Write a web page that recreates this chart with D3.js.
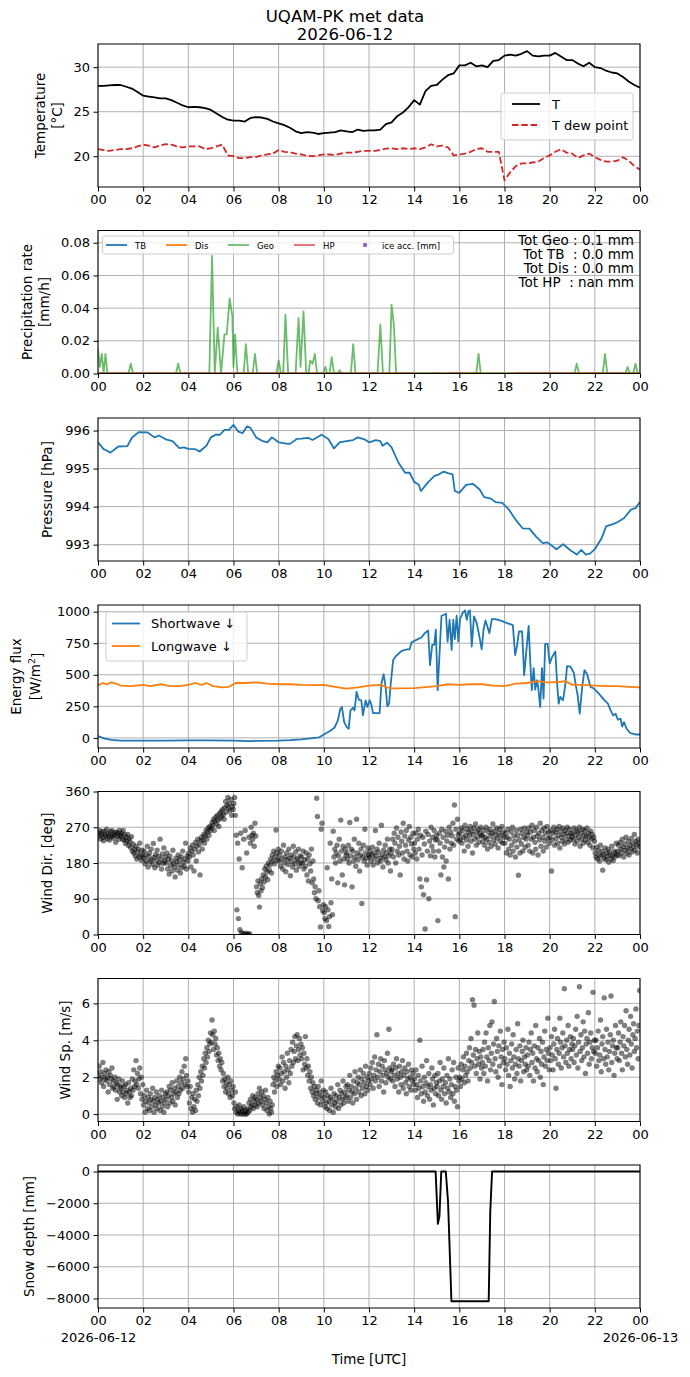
<!DOCTYPE html>
<html>
<head>
<meta charset="utf-8">
<script src="https://cdn.jsdelivr.net/npm/d3@7"></script>
<style>
  html, body { margin: 0; padding: 0; background: #fff; }
  svg text { font-family: "DejaVu Sans", sans-serif; }
</style>
</head>
<body>
<div id="chart"></div>
<script>
// UQAM-PK met data, 2026-06-12 -- seven stacked panels sharing one time axis (hours UTC)

// ---- temperature, 15 min steps from 00 to 24 ----
var tempAir = [27.9,27.9,27.95,28.0,28.0,27.8,27.6,27.2,26.8,26.7,26.6,26.5,26.5,26.3,26.0,25.7,25.5,25.55,25.5,25.4,25.2,
  24.8,24.4,24.1,24.0,24.0,23.9,24.3,24.4,24.35,24.2,23.9,23.7,23.5,23.2,22.8,22.6,22.7,22.65,22.5,22.6,
  22.65,22.7,22.9,22.8,22.7,23.0,22.85,22.9,22.9,23.0,23.6,23.8,24.5,24.9,25.5,26.3,25.8,27.3,27.9,28.0,
  28.6,29.1,29.3,30.2,30.2,30.5,30.1,30.2,30.0,30.7,30.8,31.3,31.4,31.3,31.5,31.8,31.3,31.2,31.3,31.3,
  31.6,31.2,30.8,30.8,30.4,30.1,30.5,30.0,29.9,29.6,29.4,29.3,28.9,28.4,28.0,27.7];
var tempDew = [20.8,20.7,20.6,20.7,20.8,20.8,20.9,21.1,21.3,21.2,21.0,21.2,21.35,21.3,21.1,21.0,21.1,21.1,21.1,20.8,20.9,
  21.1,21.3,20.1,20.0,19.8,19.8,19.9,19.9,20.1,20.2,20.3,20.7,20.5,20.45,20.3,20.2,20.05,20.0,20.1,20.2,
  20.2,20.15,20.3,20.4,20.4,20.5,20.6,20.6,20.6,20.7,20.85,20.9,20.8,20.9,20.8,20.9,20.8,21.0,21.35,21.1,
  21.2,21.0,20.1,20.2,20.3,20.5,20.8,20.9,20.5,20.5,20.5,17.3,18.2,18.9,19.2,19.2,19.3,19.4,19.8,20.1,
  20.5,20.8,20.4,20.3,19.8,20.1,20.3,19.9,19.6,19.4,19.4,19.5,19.9,19.5,18.9,18.5];

// ---- precipitation rate [mm/h] ----
var geoTimes = [0,0.08,0.17,0.25,0.33,0.42,1.35,1.45,1.55,3.45,3.55,3.65,4.93,5.05,5.17,5.3,5.45,5.6,5.7,5.83,5.95,6.0,6.07,6.17,
  6.45,6.55,6.65,6.85,6.95,7.05,7.9,8.0,8.1,8.2,8.3,8.42,8.75,8.88,8.97,9.1,9.22,9.32,9.4,9.5,9.6,9.7,9.97,10.07,10.15,
  10.25,10.35,10.45,10.62,10.7,10.78,11.2,11.3,11.4,12.38,12.5,12.62,12.9,13.0,13.1,13.2,16.75,16.85,16.95,
  21.1,21.2,21.3,22.35,22.45,22.55,23.35,23.45,23.55,23.7,23.8,23.9,24];
var geoRate = [0.015,0.004,0.012,0,0.012,0,0,0.006,0,0,0.006,0,0,0.072,0,0.028,0,0.024,0.024,0.046,0.035,0.004,0.024,0,
  0,0.018,0,0,0.012,0,0,0.008,0,0,0.036,0,0,0.034,0.004,0.038,0,0,0.008,0.006,0.012,0,0,0.004,0,
  0,0.01,0,0,0.002,0,0,0.018,0,0,0.03,0,0,0.042,0.03,0,0,0.012,0,
  0,0.006,0,0,0.012,0,0,0.004,0,0,0.006,0,0];
var tbTimes = [0, 24], tbRate = [0, 0];
var disTimes = [0, 24], disRate = [0, 0];
var hpTimes = [0,13.96,14.4,14.83,15.2,15.35,15.5,16.3,16.45,16.6,16.96,17.7,18.46,24];
var hpRate = [0,0,null,0,0,null,0,0,null,0,0,null,0,0];
var precipTotals = ['Tot Geo : 0.1 mm', 'Tot TB  : 0.0 mm', 'Tot Dis : 0.0 mm', 'Tot HP  : nan mm'];

// ---- pressure [hPa] ----
var pressTimes = [0,0.25,0.4,0.55,0.9,1.3,1.5,1.8,2.2,2.5,2.7,3.0,3.3,3.6,3.8,4.0,4.3,4.5,4.8,5.0,5.2,5.4,5.6,5.8,6.0,6.2,6.4,6.6,6.75,7.0,
  7.3,7.5,7.7,8.0,8.3,8.5,8.8,9.0,9.3,9.5,9.9,10.2,10.45,10.7,11.0,11.3,11.5,11.8,12.0,12.3,12.5,12.6,12.8,13.0,13.3,13.6,13.8,14.0,14.2,14.3,
  14.6,14.9,15.1,15.3,15.5,15.7,15.8,16.0,16.3,16.6,16.9,17.1,17.4,17.6,17.9,18.2,18.5,18.8,19.1,19.4,19.7,19.9,20.1,20.3,20.6,20.9,21.2,21.4,21.6,21.8,
  22.0,22.3,22.5,22.8,23.0,23.3,23.6,23.8,24.0];
var pressVals = [995.69,995.51,995.47,995.42,995.58,995.59,995.81,995.96,995.95,995.82,995.87,995.77,995.72,995.54,995.56,995.52,995.51,995.45,995.60,995.82,
  995.89,995.89,996.02,996.02,996.15,995.98,995.93,996.11,996.07,995.82,995.72,995.69,995.82,995.69,995.66,995.65,995.78,995.79,995.81,995.75,
  995.89,995.78,995.53,995.69,995.72,995.75,995.82,995.77,995.69,995.75,995.72,995.60,995.68,995.56,995.16,994.89,994.89,994.65,994.58,994.41,
  994.63,994.81,994.85,994.92,994.88,994.85,994.41,994.36,994.57,994.60,994.45,994.25,994.21,994.12,994.10,993.92,993.65,993.43,993.42,993.21,
  993.04,993.06,992.97,992.88,993.01,992.86,992.74,992.86,992.74,992.77,992.88,993.17,993.48,993.54,993.59,993.70,993.92,993.96,994.12];

// ---- radiation [W/m2] ----
var swTimes = [0,0.3,0.6,1.0,2.0,3.0,4.0,5.0,6.0,6.7,7.0,8.0,8.5,9.0,9.5,9.8,
  10.0,10.25,10.47,10.62,10.73,10.8,10.9,11.0,11.1,11.18,11.3,11.36,11.45,11.55,11.66,11.73,11.85,11.93,12.03,12.1,
  12.18,12.47,12.55,12.65,12.74,12.81,12.89,12.96,13.07,13.2,13.36,13.48,13.69,13.8,13.88,14.1,14.33,14.47,14.62,14.7,
  14.8,14.89,14.96,15.04,15.14,15.21,15.32,15.41,15.48,15.57,15.66,15.73,15.8,15.88,15.96,16.03,16.15,16.25,16.33,16.4,
  16.47,16.55,16.65,16.77,16.89,16.99,17.07,17.16,17.24,17.33,17.44,17.58,17.81,18.03,18.22,18.37,18.47,18.55,18.64,18.78,
  18.87,18.96,19.07,19.14,19.21,19.29,19.36,19.44,19.5,19.58,19.66,19.73,19.8,19.91,20.0,20.1,20.25,20.33,20.4,20.47,
  20.59,20.7,20.77,20.92,21.07,21.17,21.24,21.33,21.44,21.54,21.66,21.81,21.96,22.18,22.4,22.58,22.7,22.81,22.92,23.02,
  23.14,23.21,23.29,23.41,23.58,23.8,24.0];
var swVals = [15,-5,-15,-22,-22,-22,-20,-20,-22,-26,-24,-22,-18,-12,-2,5,
  27,53,80,138,231,245,125,90,72,218,239,218,364,303,298,178,298,245,298,266,
  197,197,431,505,399,250,271,425,617,649,676,692,702,702,755,777,798,830,851,577,
  737,737,857,378,724,968,976,984,763,936,697,936,782,968,763,941,990,1010,936,1003,
  1010,724,963,910,803,702,857,931,883,830,941,941,931,915,904,894,657,724,843,843,
  497,676,888,604,378,553,383,457,391,245,553,311,745,745,590,638,684,431,271,325,
  298,431,569,564,516,404,338,192,404,537,505,404,391,351,303,271,218,178,192,144,
  152,90,125,72,37,27,27];
var lwTimes = [0,0.2,0.4,0.6,0.8,1.0,1.5,2.0,2.3,2.8,3.2,3.6,4.0,4.3,4.6,4.8,5.1,5.5,5.8,6.1,6.5,7.0,7.5,8.0,8.5,9.0,9.5,10,10.5,11,
  11.5,12,12.5,12.8,13,14,15,15.5,16,16.5,17,17.5,18,18.5,19,19.5,19.8,20,20.5,20.7,21,21.5,22,22.5,23,23.5,24];
var lwVals = [415,435,425,440,430,415,410,420,410,425,410,410,420,435,420,435,410,400,405,435,435,440,430,425,425,420,418,420,405,390,
  400,415,420,400,392,395,410,425,420,425,425,415,410,430,435,450,440,440,445,450,420,420,415,410,410,405,400];

// ---- wind direction [deg], one row per hour, 2 min apart ----
var windDirRows = [
  [255,248,262,240,251,258,245,236,260,252,247,265,241,254,250,238,259,246,262,249,243,256,251,232,258,247,255,240,262,250],
  [248,255,240,262,238,251,229,245,236,252,224,241,233,219,246,210,228,205,215,198,222,190,208,215,195,230,201,187,212,198],
  [192,210,178,200,185,222,170,196,205,183,215,188,176,229,194,168,201,186,212,175,197,181,240,190,165,203,179,218,185,195],
  [180,205,165,190,152,198,174,186,160,212,178,170,145,192,183,162,200,175,188,155,196,168,210,182,172,190,230,165,198,185],
  [205,195,218,170,210,225,200,160,215,232,185,222,240,208,226,150,236,245,215,238,252,230,248,262,240,258,268,250,272,262],
  [268,282,275,290,262,285,295,278,300,288,272,305,292,310,298,315,302,290,320,335,308,325,345,318,330,312,340,300,322,315],
  [330,345,300,250,62,230,40,190,12,255,5,168,2,240,0,262,3,205,0,1,245,2,230,270,250,240,255,222,280,248],
  [120,105,135,98,69,128,110,140,118,150,132,165,145,172,158,138,180,162,175,190,155,200,185,210,178,195,263,205,188,215],
  [185,200,172,210,190,165,225,180,195,158,205,188,176,215,192,148,200,183,170,222,195,178,208,162,190,185,215,172,198,180],
  [195,180,210,165,188,172,205,150,190,135,200,178,160,215,130,185,140,105,120,90,343,297,85,110,70,19,265,280,60,75],
  [55,40,70,35,168,62,20,45,230,80,140,50,260,195,215,180,205,225,130,198,240,185,288,210,150,222,190,125,215,200],
  [205,190,225,180,282,198,215,120,210,185,240,195,172,290,205,188,230,160,200,215,78,195,225,185,265,205,192,175,218,200],
  [195,210,185,200,220,175,205,190,262,198,215,180,208,230,192,185,275,200,170,212,195,225,188,205,240,180,198,215,160,205],
  [215,240,195,255,230,180,268,210,245,200,222,150,258,235,205,280,190,248,225,262,210,185,238,272,200,245,228,195,255,215],
  [230,205,255,190,240,265,215,140,250,120,200,245,100,228,14,260,138,210,252,90,235,198,270,222,245,210,262,195,238,250],
  [240,35,210,255,230,150,265,195,245,170,220,260,185,235,250,140,270,215,258,230,248,280,225,326,45,265,240,290,252,235],
  [255,240,268,230,262,245,210,275,250,238,265,222,258,248,272,235,260,205,252,268,240,278,225,258,245,265,232,255,270,248],
  [250,235,262,225,245,270,240,215,258,232,265,248,222,255,278,238,260,228,250,268,242,218,255,265,235,248,272,230,258,245],
  [230,255,205,245,265,215,240,200,258,225,270,210,248,235,195,262,220,250,149,238,205,265,228,255,210,245,268,220,240,258],
  [250,225,268,210,258,240,275,205,245,262,232,215,270,248,200,255,238,280,222,262,245,210,268,235,255,220,272,242,258,230],
  [245,262,160,238,255,270,225,258,242,265,230,250,272,218,260,245,235,268,252,228,262,240,255,270,232,248,265,238,255,245],
  [255,240,268,228,250,262,235,258,245,270,222,255,240,265,230,250,262,238,248,268,232,255,245,225,260,240,252,218,245,235],
  [205,195,220,190,212,200,185,225,198,210,162,202,192,218,188,205,196,215,182,208,200,190,222,198,186,210,195,205,230,200],
  [210,225,198,232,215,205,240,220,195,228,212,245,205,218,235,200,225,215,242,208,230,220,252,212,235,225,205,240,230,220]
];

// ---- wind speed [m/s], one row per hour, 2 min apart ----
var windSpeedRows = [
  [2.1,2.6,1.9,2.3,1.7,2.0,2.8,1.5,2.2,1.9,2.4,1.8,2.0,1.2,2.3,1.6,2.1,1.9,2.5,1.4,1.8,1.5,2.0,1.3,1.7,0.8,1.6,1.9,1.2,1.5],
  [1.4,1.0,1.8,1.2,1.5,0.9,1.6,1.1,1.3,0.6,1.7,1.2,0.9,1.4,1.0,1.9,1.3,2.4,1.5,1.8,2.9,1.6,2.2,1.4,1.9,2.5,1.1,2.0,0.8,1.6],
  [0.5,1.0,0.1,0.7,1.3,0.3,0.9,0.6,0.2,1.1,0.8,0.4,1.4,0.7,0.1,0.9,0.5,1.2,0.3,0.8,0.6,1.0,0.2,0.7,1.3,0.4,0.9,0.1,0.6,1.1],
  [0.8,1.2,0.4,1.0,1.5,0.6,1.3,0.9,1.7,0.7,1.1,1.4,0.5,1.2,1.8,0.9,1.5,1.1,2.0,1.3,1.7,2.3,1.4,1.9,2.6,1.6,3.0,2.1,1.5,1.8],
  [1.2,0.6,1.5,0.3,0.9,0.1,1.1,0.4,0.8,0.2,1.3,0.7,1.6,1.0,2.0,1.4,2.3,1.8,2.6,2.1,3.0,2.5,3.3,2.8,3.6,3.1,4.0,3.4,3.8,4.4],
  [3.9,5.1,4.3,3.5,4.5,3.8,4.1,3.2,3.6,2.9,3.3,2.6,3.0,2.4,2.8,1.8,2.2,1.5,1.9,1.2,1.7,1.4,2.0,1.1,1.6,0.9,1.8,1.3,1.0,1.5],
  [0.6,0.3,1.2,0.1,0.4,0.0,0.2,0.5,0.1,0.0,0.3,0.2,0.0,0.4,0.1,0.0,0.2,0.0,0.3,0.1,0.6,0.2,0.8,0.4,0.5,1.0,0.3,0.7,0.9,0.5],
  [0.8,0.4,1.1,0.6,1.4,0.9,0.7,1.2,0.5,1.0,0.3,0.8,1.3,0.6,0.2,0.9,0.4,0.0,0.7,0.3,0.1,0.5,1.6,2.0,1.2,1.8,2.3,1.5,2.1,2.6],
  [1.9,2.5,1.6,2.2,3.1,1.8,2.8,2.3,1.4,2.6,2.0,3.3,2.4,1.7,2.9,2.2,3.5,2.6,3.9,2.8,3.4,4.2,3.0,3.7,4.3,2.9,3.5,4.1,3.2,3.8],
  [3.0,3.6,2.4,3.3,2.7,4.2,2.5,3.0,2.1,2.6,1.8,2.3,1.4,2.0,1.2,1.7,1.0,1.5,0.8,1.3,1.1,0.6,1.5,0.9,1.2,0.5,1.8,1.0,0.7,1.3],
  [0.9,0.4,1.2,0.6,0.3,1.0,0.7,0.2,0.9,1.4,0.5,0.8,0.1,1.1,0.6,0.4,1.0,0.7,1.6,0.3,0.9,1.3,0.5,1.1,0.8,1.8,0.6,1.2,0.9,1.5],
  [1.0,1.6,0.7,1.3,2.1,0.9,1.5,1.2,0.6,1.8,1.1,2.3,1.4,0.8,1.7,2.0,1.2,1.6,2.4,1.0,1.9,1.4,2.2,1.7,1.1,2.6,1.5,2.0,1.3,1.8],
  [2.2,1.6,2.5,1.9,2.8,1.4,2.1,3.1,1.8,2.4,4.3,2.0,2.7,1.5,2.3,3.0,1.8,2.6,2.1,1.2,2.9,2.4,1.7,2.2,3.3,2.0,4.6,2.5,1.9,2.3],
  [2.4,1.8,2.7,2.1,1.5,2.5,3.0,1.9,2.2,1.2,2.6,2.0,1.6,2.3,2.9,1.4,2.1,2.5,1.7,1.1,2.3,1.9,2.7,1.5,2.0,1.3,2.4,1.8,2.2,1.6],
  [1.9,1.3,2.4,1.6,0.9,2.1,1.4,4.0,1.8,1.1,2.6,1.5,0.7,2.0,1.2,1.7,2.9,1.0,1.5,2.2,0.8,1.6,1.3,2.5,1.9,0.5,1.4,2.1,1.1,1.7],
  [1.5,2.2,1.0,1.8,2.8,1.3,0.8,1.9,1.5,2.5,1.1,1.7,0.6,2.1,1.4,3.0,1.2,1.9,0.9,1.6,2.4,1.1,2.8,0.7,1.5,2.0,1.3,0.4,2.5,1.8],
  [2.0,1.5,2.7,1.9,2.4,3.1,1.7,2.6,2.1,3.3,2.3,1.8,2.9,3.6,2.5,4.1,2.8,6.2,3.2,5.9,2.6,3.5,2.2,3.0,4.4,2.7,3.4,1.9,3.1,2.5],
  [2.8,3.5,2.2,3.9,2.6,4.4,3.1,1.8,3.6,2.9,4.8,2.4,3.3,5.0,2.7,3.8,6.1,3.0,2.3,4.1,3.4,2.0,3.7,2.6,4.5,3.1,1.6,3.5,2.8,3.9],
  [3.0,2.4,3.6,2.7,4.6,2.1,3.3,1.5,2.9,3.8,2.5,4.3,3.1,1.9,2.7,3.5,2.2,4.9,3.0,2.6,3.7,1.8,2.9,3.4,4.0,2.3,3.1,2.7,3.6,2.4],
  [3.2,2.6,3.9,2.1,3.5,4.4,2.8,3.3,1.8,3.7,2.5,4.8,3.0,2.3,3.6,2.9,4.1,2.0,3.4,2.7,3.9,1.6,3.1,4.5,2.6,3.5,2.9,5.2,3.3,2.4],
  [3.6,2.9,4.2,3.2,2.4,3.8,4.6,3.0,1.4,3.5,4.1,2.7,3.3,5.2,3.9,2.5,3.6,4.4,3.1,6.8,3.7,2.8,4.0,3.3,4.8,2.6,3.5,4.2,3.0,3.8],
  [3.5,4.1,2.8,3.7,4.6,3.2,5.3,2.5,3.9,6.9,3.4,4.3,2.9,3.6,5.0,3.1,4.5,2.2,3.8,4.1,3.3,5.5,2.7,3.9,4.4,3.0,3.6,6.6,3.4,4.0],
  [3.3,4.0,2.6,3.6,4.5,2.9,3.2,5.1,2.3,3.8,4.2,3.0,6.3,3.5,2.7,4.6,3.1,3.9,2.4,3.4,4.3,6.4,2.8,3.7,4.0,2.1,3.3,4.8,3.6,3.0],
  [3.6,4.4,2.9,3.9,5.0,3.3,2.4,4.2,3.7,4.8,3.1,5.6,3.5,2.7,4.0,4.6,3.2,5.3,3.8,2.5,4.3,4.9,3.4,4.1,5.7,3.6,4.5,3.0,4.8,6.7]
];

// ---- snow depth [mm] ----
var snowTimes = [0,14.95,15.05,15.12,15.2,15.4,15.5,15.65,17.3,17.37,17.45,24];
var snowDepth = [0,0,-3300,-2800,0,0,-1900,-8170,-8170,-2500,0,0];

// ---- axis ticks ----
var hourTicks = d3.range(0, 25, 2);
var tempTicks = [20, 25, 30];
var precipTicks = [0, 0.02, 0.04, 0.06, 0.08];
var pressTicks = [993, 994, 995, 996];
var fluxTicks = [0, 250, 500, 750, 1000];
var dirTicks = [0, 90, 180, 270, 360];
var speedTicks = [0, 2, 4, 6];
var snowTicks = [-8000, -6000, -4000, -2000, 0];

// ---------------------------------------------------------------
var W = 690, H = 1377;
var X0 = 98, X1 = 640, PH = 143;
var panelTops = [44, 230.5, 418, 605, 791.5, 978.5, 1165];
var FONT = 'DejaVu Sans';
var TICK_FS = 13, LABEL_FS = '13.5px';

var svg = d3.select('#chart').append('svg')
    .attr('width', W)
    .attr('height', H);

var x = d3.scaleLinear().domain([0, 24]).range([X0, X1]);
var pad2 = d3.format('02d');

// Title (centred on the figure, not on the axes)
svg.append('text').attr('x', 345).attr('y', 22).attr('text-anchor', 'middle')
    .attr('font-size', '16.6px').text('UQAM-PK met data');
svg.append('text').attr('x', 345).attr('y', 39.5).attr('text-anchor', 'middle')
    .attr('font-size', '16.6px').text('2026-06-12');

function makePanel(i, domain, ticks, fmt) {
    var top = panelTops[i];
    var y = d3.scaleLinear().domain(domain).range([top + PH, top]);
    var g = svg.append('g');

    // grid below the data
    var grid = g.append('g').attr('stroke', '#b0b0b0').attr('stroke-width', 1);
    grid.selectAll('line.gx').data(hourTicks).join('line')
        .attr('x1', function (d) { return x(d); }).attr('x2', function (d) { return x(d); })
        .attr('y1', top).attr('y2', top + PH);
    grid.selectAll('line.gy').data(ticks).join('line')
        .attr('x1', X0).attr('x2', X1)
        .attr('y1', function (d) { return y(d); }).attr('y2', function (d) { return y(d); });

    svg.append('clipPath').attr('id', 'clip' + i)
        .append('rect').attr('x', X0).attr('y', top).attr('width', X1 - X0).attr('height', PH);
    var plot = g.append('g').attr('clip-path', 'url(#clip' + i + ')');

    return { g: g, plot: plot, y: y, top: top, ticks: ticks, fmt: fmt };
}

function finishPanel(p, lastPanel) {
    // frame
    p.g.append('rect').attr('x', X0).attr('y', p.top).attr('width', X1 - X0).attr('height', PH)
        .attr('fill', 'none').attr('stroke', '#000').attr('stroke-width', 1);

    var ya = p.g.append('g').attr('transform', 'translate(' + X0 + ',0)')
        .call(d3.axisLeft(p.y).tickValues(p.ticks).tickFormat(p.fmt).tickSize(4.5).tickPadding(3.5));
    var xa = p.g.append('g').attr('transform', 'translate(0,' + (p.top + PH) + ')')
        .call(d3.axisBottom(x).tickValues(hourTicks).tickFormat(function (d) { return pad2(d % 24); })
            .tickSize(4.5).tickPadding(3.5));

    [ya, xa].forEach(function (a) {
        a.attr('font-family', FONT).attr('font-size', TICK_FS);
        a.select('.domain').remove();
        a.selectAll('.tick line').attr('stroke', '#000');
        a.selectAll('.tick text').attr('fill', '#000');
    });

    if (lastPanel) {
        xa.selectAll('.tick text').each(function (d) {
            if (d === 0 || d === 24) {
                d3.select(this).append('tspan').attr('x', 0).attr('dy', '1.3em')
                    .text(d === 0 ? '2026-06-12' : '2026-06-13');
            }
        });
    }
}

function yLabel(p, lines) {
    var cy = p.top + PH / 2;
    lines.forEach(function (ln) {
        var t = svg.append('text')
            .attr('transform', 'translate(' + ln.x + ',' + cy + ') rotate(-90)')
            .attr('text-anchor', 'middle').attr('dy', '0.35em')
            .attr('font-size', LABEL_FS);
        if (ln.sup) {
            t.append('tspan').text(ln.text);
            t.append('tspan').attr('font-size', '9.5px').attr('dy', '-0.5em').text(ln.sup);
            t.append('tspan').attr('dy', '0.5em').text(ln.after);
        } else {
            t.text(ln.text);
        }
    });
}

function drawLine(p, xs, ys, color, width, opts) {
    opts = opts || {};
    var pts = xs.map(function (t, k) { return [t, ys[k]]; });
    var line = d3.line()
        .defined(function (d) { return d[1] !== null; })
        .x(function (d) { return x(d[0]); })
        .y(function (d) { return p.y(d[1]); });
    p.plot.append('path').datum(pts)
        .attr('d', line)
        .attr('fill', 'none')
        .attr('stroke', color)
        .attr('stroke-width', width)
        .attr('stroke-opacity', opts.opacity || 1)
        .attr('stroke-dasharray', opts.dash || null)
        .attr('stroke-linejoin', 'round');
}

function drawScatter(p, rows) {
    var pts = [];
    rows.forEach(function (row, h) {
        row.forEach(function (v, k) { pts.push([h + (k * 2 + 1) / 60, v]); });
    });
    p.plot.selectAll('circle').data(pts).join('circle')
        .attr('cx', function (d) { return x(d[0]); })
        .attr('cy', function (d) { return p.y(d[1]); })
        .attr('r', 2.7)
        .attr('fill', '#000')
        .attr('fill-opacity', 0.5);
}

function legendBox(g, x0, y0, w, h) {
    g.append('rect').attr('x', x0).attr('y', y0).attr('width', w).attr('height', h)
        .attr('rx', 2.5).attr('fill', '#fff').attr('fill-opacity', 0.8)
        .attr('stroke', '#cccccc').attr('stroke-width', 1);
}

var quarterHours = tempAir.map(function (d, k) { return k * 0.25; });

// ---- panel 1: temperature ----
var p1 = makePanel(0, [16.55, 32.6], tempTicks, d3.format('d'));
drawLine(p1, quarterHours, tempAir, '#000', 1.8);
drawLine(p1, quarterHours, tempDew, '#d62728', 1.8, { dash: '6.5,2.8' });
finishPanel(p1);
yLabel(p1, [{ x: 40, text: 'Temperature' }, { x: 57, text: '[°C]' }]);
legendBox(p1.g, 501, 93, 132, 47);
p1.g.append('line').attr('x1', 512).attr('x2', 540).attr('y1', 104).attr('y2', 104)
    .attr('stroke', '#000').attr('stroke-width', 1.8);
p1.g.append('text').attr('x', 552).attr('y', 108.5).attr('font-size', '13px').text('T');
p1.g.append('line').attr('x1', 512).attr('x2', 540).attr('y1', 125).attr('y2', 125)
    .attr('stroke', '#d62728').attr('stroke-width', 1.8).attr('stroke-dasharray', '6.5,2.8');
p1.g.append('text').attr('x', 552).attr('y', 129.5).attr('font-size', '13px').text('T dew point');

// ---- panel 2: precipitation ----
var p2 = makePanel(1, [0, 0.0875], precipTicks, d3.format('.2f'));
drawLine(p2, tbTimes, tbRate, '#1f77b4', 1.8);
drawLine(p2, disTimes, disRate, '#ff7f0e', 1.8);
drawLine(p2, geoTimes, geoRate, '#2ca02c', 1.8, { opacity: 0.7 });
drawLine(p2, hpTimes, hpRate, '#d62728', 1.8, { opacity: 0.7 });
finishPanel(p2);
yLabel(p2, [{ x: 27, text: 'Precipitation rate' }, { x: 44, text: '[mm/h]' }]);
legendBox(p2.g, 102.5, 236, 351, 18);
var precipLegend = [
    { name: 'TB', color: '#1f77b4', x: 106, op: 1 },
    { name: 'Dis', color: '#ff7f0e', x: 166, op: 1 },
    { name: 'Geo', color: '#2ca02c', x: 228, op: 0.7 },
    { name: 'HP', color: '#d62728', x: 294, op: 0.7 }
];
precipLegend.forEach(function (e) {
    p2.g.append('line').attr('x1', e.x).attr('x2', e.x + 21).attr('y1', 245).attr('y2', 245)
        .attr('stroke', e.color).attr('stroke-opacity', e.op).attr('stroke-width', 1.8);
    p2.g.append('text').attr('x', e.x + 29).attr('y', 248.5).attr('font-size', '8.5px').text(e.name);
});
p2.g.append('circle').attr('cx', 365).attr('cy', 245).attr('r', 2.2).attr('fill', '#9467bd');
p2.g.append('text').attr('x', 382).attr('y', 248.5).attr('font-size', '8.5px').text('ice acc. [mm]');
precipTotals.forEach(function (s, k) {
    p2.g.append('text').attr('x', 634).attr('y', 245 + k * 14)
        .attr('text-anchor', 'end').attr('font-size', '13.5px')
        .style('white-space', 'pre').text(s);
});

// ---- panel 3: pressure ----
var p3 = makePanel(2, [992.57, 996.33], pressTicks, d3.format('d'));
drawLine(p3, pressTimes, pressVals, '#1f77b4', 1.8);
finishPanel(p3);
yLabel(p3, [{ x: 47, text: 'Pressure [hPa]' }]);

// ---- panel 4: energy flux ----
var p4 = makePanel(3, [-80, 1053], fluxTicks, d3.format('d'));
drawLine(p4, swTimes, swVals, '#1f77b4', 1.8);
drawLine(p4, lwTimes, lwVals, '#ff7f0e', 1.8);
finishPanel(p4);
yLabel(p4, [{ x: 16, text: 'Energy flux' }, { x: 35, text: '[W/m', sup: '2', after: ']' }]);
legendBox(p4.g, 106, 612, 141, 49);
p4.g.append('line').attr('x1', 112).attr('x2', 140).attr('y1', 623.5).attr('y2', 623.5)
    .attr('stroke', '#1f77b4').attr('stroke-width', 1.8);
p4.g.append('text').attr('x', 151).attr('y', 628).attr('font-size', '13px').text('Shortwave \u2193');
p4.g.append('line').attr('x1', 112).attr('x2', 140).attr('y1', 646).attr('y2', 646)
    .attr('stroke', '#ff7f0e').attr('stroke-width', 1.8);
p4.g.append('text').attr('x', 151).attr('y', 650.5).attr('font-size', '13px').text('Longwave \u2193');

// ---- panel 5: wind direction ----
var p5 = makePanel(4, [0, 360], dirTicks, d3.format('d'));
drawScatter(p5, windDirRows);
finishPanel(p5);
yLabel(p5, [{ x: 47, text: 'Wind Dir. [deg]' }]);

// ---- panel 6: wind speed ----
var p6 = makePanel(5, [-0.4, 7.35], speedTicks, d3.format('d'));
drawScatter(p6, windSpeedRows);
finishPanel(p6);
yLabel(p6, [{ x: 65, text: 'Wind Sp. [m/s]' }]);

// ---- panel 7: snow depth ----
var p7 = makePanel(6, [-8600, 410], snowTicks, d3.format('d'));
drawLine(p7, snowTimes, snowDepth, '#000', 1.9);
finishPanel(p7, true);
yLabel(p7, [{ x: 29, text: 'Snow depth [mm]' }]);

svg.append('text').attr('x', 369).attr('y', 1364).attr('text-anchor', 'middle')
    .attr('font-size', LABEL_FS).text('Time [UTC]');
</script>
</body>
</html>
